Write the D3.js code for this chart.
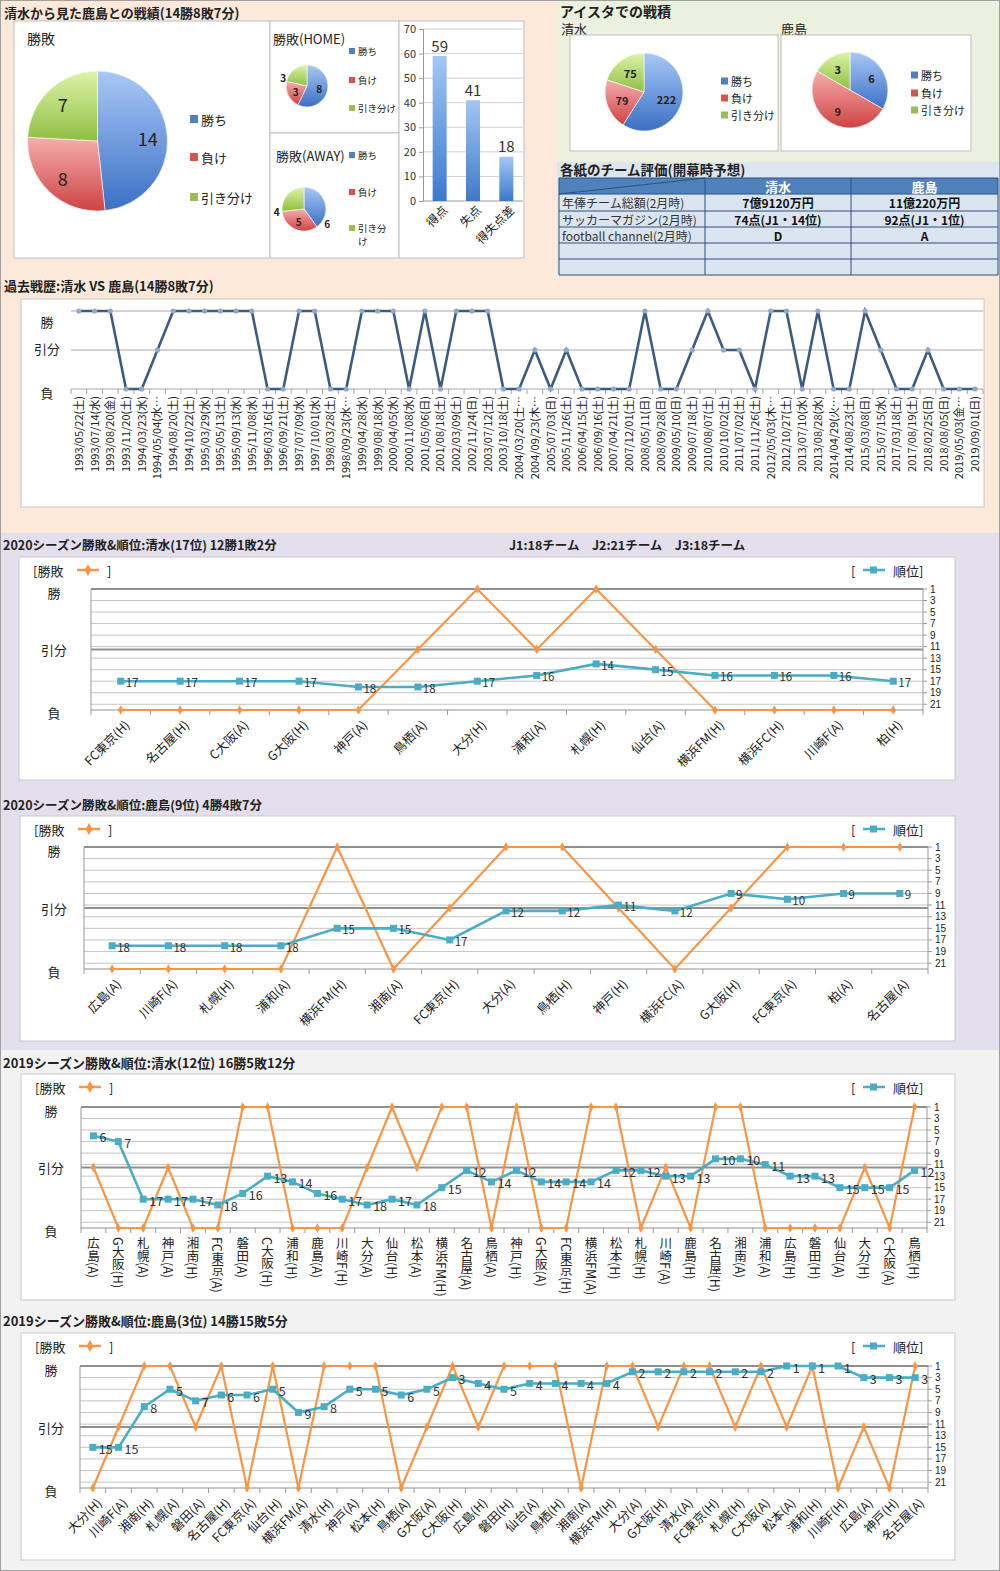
<!DOCTYPE html>
<html><head><meta charset="utf-8">
<script src="https://cdn.jsdelivr.net/npm/d3@7"></script>
<style>
body{margin:0;background:#fff}
svg text{font-family:"Noto Sans CJK JP","Noto Sans",sans-serif;fill:#222}
</style></head><body>
<svg id="c" width="1000" height="1571"></svg>
<script>
// ---- data ----
const wdlNames = ["勝ち","負け","引き分け"]
const totalWDL = [14,8,7]
const homeWDL = [8,3,3]
const awayWDL = [6,5,4]
const goalCats = ["得点","失点","得失点差"]
const goalVals = [59,41,18]
const aistaShimizu = [222,79,75]
const aistaKashima = [6,9,3]
const tableHead = ["清水","鹿島"]
const tableRows = ["年俸チーム総額(2月時)","サッカーマガジン(2月時)","football channel(2月時)","",""]
const tableShimizu = ["7億9120万円","74点(J1・14位)","D","",""]
const tableKashima = ["11億220万円","92点(J1・1位)","A","",""]

const histDates = ["1993/05/22(土)","1993/07/14(水)","1993/08/20(金)","1993/11/20(土)","1994/03/23(水)","1994/05/04(水…","1994/08/20(土)","1994/10/22(土)","1995/03/29(水)","1995/05/13(土)","1995/09/13(水)","1995/11/08(水)","1996/03/16(土)","1996/09/21(土)","1997/07/09(水)","1997/10/01(水)","1998/03/28(土)","1998/09/23(水…","1999/04/28(水)","1999/08/18(水)","2000/04/05(水)","2000/11/08(水)","2001/05/06(日)","2001/08/18(土)","2002/03/09(土)","2002/11/24(日)","2003/07/12(土)","2003/10/18(土)","2004/03/20(土…","2004/09/23(木…","2005/07/03(日)","2005/11/26(土)","2006/04/15(土)","2006/09/16(土)","2007/04/21(土)","2007/12/01(土)","2008/05/11(日)","2008/09/28(日)","2009/05/10(日)","2009/07/18(土)","2010/08/07(土)","2010/10/02(土)","2011/07/02(土)","2011/11/26(土)","2012/05/03(木…","2012/10/27(土)","2013/07/10(水)","2013/08/28(水)","2014/04/29(火…","2014/08/23(土)","2015/03/08(日)","2015/07/15(水)","2017/03/18(土)","2017/08/19(土)","2018/02/25(日)","2018/08/05(日)","2019/05/03(金…","2019/09/01(日)"]
// 1 = 勝, 0 = 引分, -1 = 負
const histResults = [1,1,1,-1,-1,0,1,1,1,1,1,1,-1,-1,1,1,-1,-1,1,1,1,-1,1,-1,1,1,1,-1,-1,0,-1,0,-1,-1,-1,-1,1,-1,-1,0,1,0,0,-1,1,1,-1,1,-1,-1,1,0,-1,-1,0,-1,-1,-1]

const s20Cats = ["FC東京(H)","名古屋(H)","C大阪(A)","G大阪(H)","神戸(A)","鳥栖(A)","大分(H)","浦和(A)","札幌(H)","仙台(A)","横浜FM(H)","横浜FC(H)","川崎F(A)","柏(H)"]
const s20Res = [-1,-1,-1,-1,-1,0,1,0,1,0,-1,-1,-1,-1]
const s20Rank = [17,17,17,17,18,18,17,16,14,15,16,16,16,17]

const k20Cats = ["広島(A)","川崎F(A)","札幌(H)","浦和(A)","横浜FM(H)","湘南(A)","FC東京(H)","大分(A)","鳥栖(H)","神戸(H)","横浜FC(A)","G大阪(H)","FC東京(A)","柏(A)","名古屋(A)"]
const k20Res = [-1,-1,-1,-1,1,-1,0,1,1,0,-1,0,1,1,1]
const k20Rank = [18,18,18,18,15,15,17,12,12,11,12,9,10,9,9]

const s19Cats = ["広島(A)","G大阪(H)","札幌(A)","神戸(A)","湘南(H)","FC東京(A)","磐田(A)","C大阪(H)","浦和(H)","鹿島(A)","川崎F(H)","大分(A)","仙台(H)","松本(A)","横浜FM(H)","名古屋(A)","鳥栖(A)","神戸(H)","G大阪(A)","FC東京(H)","横浜FM(A)","松本(H)","札幌(H)","川崎F(A)","鹿島(H)","名古屋(H)","湘南(A)","浦和(A)","広島(H)","磐田(H)","仙台(A)","大分(H)","C大阪(A)","鳥栖(H)"]
const s19Res = [0,-1,-1,0,-1,-1,1,1,-1,-1,-1,0,1,0,1,1,-1,1,-1,-1,1,1,-1,0,-1,1,1,-1,-1,-1,-1,0,-1,1]
const s19Rank = [6,7,17,17,17,18,16,13,14,16,17,18,17,18,15,12,14,12,14,14,14,12,12,13,13,10,10,11,13,13,15,15,15,12]

const k19Cats = ["大分(H)","川崎F(A)","湘南(H)","札幌(A)","磐田(A)","名古屋(H)","FC東京(A)","仙台(H)","横浜FM(A)","清水(H)","神戸(A)","松本(H)","鳥栖(A)","G大阪(A)","C大阪(H)","広島(H)","磐田(H)","仙台(A)","鳥栖(H)","湘南(A)","横浜FM(H)","大分(A)","G大阪(H)","清水(A)","FC東京(H)","札幌(H)","C大阪(A)","松本(A)","浦和(H)","川崎F(H)","広島(A)","神戸(H)","名古屋(A)"]
const k19Res = [-1,0,1,1,0,1,-1,1,-1,1,1,1,-1,0,1,0,1,1,1,-1,1,1,0,1,1,0,1,0,1,-1,0,-1,1]
const k19Rank = [15,15,8,5,7,6,6,5,9,8,5,5,6,5,3,4,5,4,4,4,4,2,2,2,2,2,2,1,1,1,3,3,3]

const rankTicks = [1,3,5,7,9,11,13,15,17,19,21]
const wdlTicks = ["勝","引分","負"]

// ---- page ----
const svg = d3.select("#c")
const defs = svg.append("defs")

function rect(x,y,w,h,fill,stroke){
  return svg.append("rect").attr("x",x).attr("y",y).attr("width",w).attr("height",h)
    .attr("fill",fill).attr("stroke",stroke||"none")
}
function txt(x,y,s,size,opt){
  opt = opt||{}
  return svg.append("text").attr("x",x).attr("y",y).text(s).attr("font-size",size)
    .attr("font-weight",opt.bold?"bold":null).attr("text-anchor",opt.anchor||"start")
    .attr("dominant-baseline","central").style("fill",opt.fill||"#222")
}

// backgrounds
rect(0,0,557,275,"#fde9d9")
rect(557,0,443,162,"#ebf1de")
rect(557,162,443,113,"#dce6f1")
rect(0,275,1000,258,"#fde9d9")
rect(0,533,1000,517,"#e4dfec")
rect(0,1050,1000,521,"#f2f2f2")
rect(0.5,0.5,999,1570,"none","#a0a0a0")

// gradients (Excel style)
const sliceColors = [["#a8c8f6","#3b70c4"],["#f6adad","#cf4343"],["#dcf3a9","#90bf42"]]
sliceColors.forEach((c,i)=>{
  const lg = defs.append("linearGradient").attr("id","pg"+i).attr("x1",0).attr("y1",0).attr("x2",0).attr("y2",1)
  lg.append("stop").attr("offset","0%").attr("stop-color",c[0])
  lg.append("stop").attr("offset","100%").attr("stop-color",c[1])
})
const bgr = defs.append("linearGradient").attr("id","bar").attr("x1",0).attr("y1",0).attr("x2",0).attr("y2",1)
bgr.append("stop").attr("offset","0%").attr("stop-color","#a3c6f5")
bgr.append("stop").attr("offset","100%").attr("stop-color","#3a7acb")
const legColors = ["#4f81bd","#d9534f","#9bbb59"]

function drawPie(cx,cy,r,vals,lab){
  const arcs = d3.pie().sort(null)(vals)
  const arc = d3.arc().innerRadius(0).outerRadius(r)
  const g = svg.append("g").attr("transform",`translate(${cx},${cy})`)
  g.selectAll("path").data(arcs).join("path").attr("d",arc)
    .attr("fill",(d,i)=>`url(#pg${i})`).attr("stroke","#fff").attr("stroke-width",0.6)
  g.selectAll("text").data(arcs).join("text")
    .attr("transform",(d,i)=>{
      const o = lab.pos ? lab.pos[i] : {}
      const a = o.a!=null ? o.a*Math.PI/180 : (d.startAngle+d.endAngle)/2
      const rr = (o.k||lab.k)*r
      return `translate(${Math.sin(a)*rr},${-Math.cos(a)*rr})`
    })
    .attr("text-anchor","middle").attr("dominant-baseline","central")
    .attr("font-size",lab.size).attr("font-weight",lab.bold?"bold":null)
    .text(d=>d.data)
}
function pieLegend(x,ys,size,sq,names){
  const g = svg.append("g")
  names.forEach((n,i)=>{
    g.append("rect").attr("x",x).attr("y",ys[i]-sq/2).attr("width",sq).attr("height",sq).attr("fill",legColors[i])
    g.append("text").attr("x",x+sq+3).attr("y",ys[i]).attr("dominant-baseline","central")
      .attr("font-size",size).text(n)
  })
}

// ---- top-left : 清水から見た鹿島との戦績 ----
txt(4,12,"清水から見た鹿島との戦績(14勝8敗7分)",13,{bold:true})
rect(14,21,256,237,"#fff","#bfbfbf")
rect(270,21,129,112,"#fff","#bfbfbf")
rect(270,133,129,125,"#fff","#bfbfbf")
rect(399,21,125,237,"#fff","#bfbfbf")

txt(27,38,"勝敗",14)
drawPie(97.5,141,70,totalWDL,{k:0.72,size:18})
pieLegend(190,[119,157,197],13,8,wdlNames)

txt(273,38,"勝敗(HOME)",13)
drawPie(307,86,21,homeWDL,{k:0.6,size:10,bold:true,pos:[{},{},{k:1.2,a:290}]})
pieLegend(349,[51,80,108],9.5,6,wdlNames)

txt(276,155,"勝敗(AWAY)",13)
drawPie(304,209,22,awayWDL,{k:0.6,size:10,bold:true,pos:[{k:1.25,a:122},{},{k:1.25,a:264}]})
pieLegend(349,[155,192,228],9.5,6,["勝ち","負け","引き分"])
txt(358,241,"け",9.5)

// bar chart 得点 / 失点
const xb = d3.scaleBand().domain(goalCats).range([423,523]).paddingInner(0.58).paddingOuter(0.29)
const yb = d3.scaleLinear().domain([0,70]).range([201,29])
const gb = svg.append("g")
gb.selectAll(".grid").data(d3.range(10,80,10)).join("line").attr("class","grid")
  .attr("x1",423).attr("x2",523).attr("y1",d=>yb(d)).attr("y2",d=>yb(d)).attr("stroke","#d0d0d0")
gb.append("g").attr("transform","translate(423,0)")
  .call(d3.axisLeft(yb).ticks(7).tickSize(4).tickPadding(3))
  .call(a=>{a.select(".domain").attr("stroke","#9a9a9a");a.selectAll(".tick line").attr("stroke","#9a9a9a");
            a.selectAll("text").attr("font-size",11).style("fill","#333")})
gb.append("line").attr("x1",423).attr("x2",523).attr("y1",201).attr("y2",201).attr("stroke","#9a9a9a")
gb.selectAll(".bar").data(goalVals).join("rect").attr("class","bar")
  .attr("x",(d,i)=>xb(goalCats[i])).attr("width",xb.bandwidth())
  .attr("y",d=>yb(d)).attr("height",d=>201-yb(d)).attr("fill","url(#bar)")
gb.selectAll(".val").data(goalVals).join("text").attr("class","val")
  .attr("x",(d,i)=>xb(goalCats[i])+xb.bandwidth()/2).attr("y",d=>yb(d)-11)
  .attr("text-anchor","middle").attr("dominant-baseline","central").attr("font-size",15).style("fill","#333").text(d=>d)
gb.selectAll(".xl").data(goalCats).join("text").attr("class","xl")
  .attr("transform",d=>`translate(${xb(d)+xb.bandwidth()/2+5},${207}) rotate(-45)`)
  .attr("text-anchor","end").attr("dominant-baseline","central").attr("font-size",12).text(d=>d)

// ---- top-right : アイスタでの戦積 ----
txt(560,11,"アイスタでの戦積",14,{bold:true})
txt(561,28,"清水",13)
txt(781,28,"鹿島",13)
rect(570,35,208,116,"#fff","#bfbfbf")
rect(781,35,190,116,"#fff","#bfbfbf")
drawPie(644,92,39,aistaShimizu,{k:0.6,size:11,bold:true})
pieLegend(721,[81,98,115],11,7,wdlNames)
drawPie(850,90,38,aistaKashima,{k:0.65,size:11,bold:true})
pieLegend(911,[75,93,110],11,7,wdlNames)

// ---- table ----
txt(560,169,"各紙のチーム評価(開幕時予想)",13.5,{bold:true})
const colX = [559,705,851,998]
const rowY = [178,194,211,227,243,259,275]
rect(559,178,439,16,"#4f81bd")
rect(559,194,439,81,"#dbe5f1")
const gt = svg.append("g")
rowY.forEach(y=>gt.append("line").attr("x1",559).attr("x2",998).attr("y1",y).attr("y2",y).attr("stroke","#2f4f7f"))
colX.forEach(x=>gt.append("line").attr("x1",x).attr("x2",x).attr("y1",178).attr("y2",275).attr("stroke","#2f4f7f"))
gt.append("line").attr("x1",559).attr("y1",194).attr("x2",705).attr("y2",178).attr("stroke","#2f4f7f")
tableHead.forEach((h,i)=>txt((colX[i+1]+colX[i+2])/2,186.5,h,13,{bold:true,anchor:"middle",fill:"#fff"}))
tableRows.forEach((r,i)=>{
  const y = (rowY[i+1]+rowY[i+2])/2
  txt(562,y,r,12,{fill:"#333"})
  txt((colX[1]+colX[2])/2,y,tableShimizu[i],12,{bold:true,anchor:"middle",fill:"#111"})
  txt((colX[2]+colX[3])/2,y,tableKashima[i],12,{bold:true,anchor:"middle",fill:"#111"})
})

// ---- 過去戦歴 ----
txt(4,285,"過去戦歴:清水 VS 鹿島(14勝8敗7分)",13,{bold:true})
rect(21,299,963,208,"#fff","#c6c6c6")
const xh = d3.scaleBand().domain(histDates).range([71,983])
const yh = d3.scaleLinear().domain([-1,1]).range([389,311])
const gh = svg.append("g")
gh.selectAll(".grid").data([-1,0,1]).join("line").attr("class","grid")
  .attr("x1",71).attr("x2",983).attr("y1",d=>yh(d)).attr("y2",d=>yh(d)).attr("stroke","#a6a6a6")
gh.selectAll(".tk").data(d3.range(histDates.length+1)).join("line").attr("class","tk")
  .attr("x1",d=>71+d*xh.step()).attr("x2",d=>71+d*xh.step()).attr("y1",389).attr("y2",394).attr("stroke","#a6a6a6")
wdlTicks.forEach((t,i)=>txt(47,[321,348,392][i],t,13,{anchor:"middle"}))
const hx = d=>xh(d)+xh.bandwidth()/2
gh.append("path").datum(histResults)
  .attr("d",d3.line().x((d,i)=>hx(histDates[i])).y(d=>yh(d)))
  .attr("fill","none").attr("stroke","#3d5b80").attr("stroke-width",2.6)
gh.selectAll(".mk").data(histResults).join("circle").attr("class","mk")
  .attr("cx",(d,i)=>hx(histDates[i])).attr("cy",d=>yh(d)).attr("r",2.6).attr("fill","#8fa9cc")
gh.selectAll(".xl").data(histDates).join("text").attr("class","xl")
  .attr("transform",d=>`translate(${hx(d)},${396}) rotate(-90)`)
  .attr("text-anchor","end").attr("dy","0.36em").attr("font-size",11).text(d=>d)

// ---- 勝敗 & 順位 combo charts ----
function combo(o){
  const g = svg.append("g")
  g.append("rect").attr("x",o.box[0]).attr("y",o.box[1]).attr("width",o.box[2]-o.box[0])
    .attr("height",o.box[3]-o.box[1]).attr("fill","#fff").attr("stroke","#c9c9c9")
  const n = o.cats.length
  const x = d3.scaleBand().domain(d3.range(n)).range([o.x0,o.x1])
  const cx = i=>x(i)+x.bandwidth()/2
  const yr = d3.scaleLinear().domain([1,22]).range([o.yT,o.yB])
  const ys = d3.scaleLinear().domain([-1,1]).range([o.yB,o.yT])

  g.selectAll(".rg").data(rankTicks).join("line").attr("class","rg")
    .attr("x1",o.x0).attr("x2",o.x1).attr("y1",d=>yr(d)).attr("y2",d=>yr(d)).attr("stroke","#c4c4c4")
  g.selectAll(".rt").data(rankTicks).join("line").attr("class","rt")
    .attr("x1",o.x1).attr("x2",o.x1+4).attr("y1",d=>yr(d)).attr("y2",d=>yr(d)).attr("stroke","#999")
  g.selectAll(".sg").data([-1,0,1]).join("line").attr("class","sg")
    .attr("x1",o.x0).attr("x2",o.x1).attr("y1",d=>ys(d)).attr("y2",d=>ys(d))
    .attr("stroke","#8f8f8f").attr("stroke-width",d=>d===-1?1.2:2)
  g.append("line").attr("x1",o.x0).attr("x2",o.x0).attr("y1",o.yT).attr("y2",o.yB).attr("stroke","#999")
  g.append("line").attr("x1",o.x1).attr("x2",o.x1).attr("y1",o.yT).attr("y2",o.yB).attr("stroke","#999")
  g.selectAll(".bt").data(d3.range(n+1)).join("line").attr("class","bt")
    .attr("x1",d=>o.x0+d*x.step()).attr("x2",d=>o.x0+d*x.step()).attr("y1",o.yB).attr("y2",o.yB+5).attr("stroke","#999")

  g.selectAll(".rl").data(rankTicks).join("text").attr("class","rl")
    .attr("x",o.x1+7).attr("y",d=>yr(d)).attr("dominant-baseline","central")
    .style("font-family","'Liberation Sans',Arial,sans-serif").attr("font-size",10).text(d=>d)
  g.selectAll(".wl").data([1,0,-1]).join("text").attr("class","wl")
    .attr("x",o.lx).attr("y",d=>ys(d)+(d===1?3:d===-1?2:0)).attr("text-anchor","middle")
    .attr("dominant-baseline","central").attr("font-size",13).text((d,i)=>wdlTicks[i])

  // legends
  const ly = o.box[1]+13
  g.append("text").attr("x",o.box[0]+14).attr("y",ly).attr("dominant-baseline","central").attr("font-size",13).text("[勝敗")
  g.append("line").attr("x1",o.box[0]+58).attr("x2",o.box[0]+80).attr("y1",ly).attr("y2",ly).attr("stroke","#f79646").attr("stroke-width",2.5)
  g.append("path").attr("d",d3.symbol(d3.symbolDiamond).size(40)()).attr("transform",`translate(${o.box[0]+69},${ly})`).attr("fill","#f79646")
  g.append("text").attr("x",o.box[0]+88).attr("y",ly).attr("dominant-baseline","central").attr("font-size",13).text("]")
  g.append("text").attr("x",o.box[2]-104).attr("y",ly).attr("dominant-baseline","central").attr("font-size",13).text("[")
  g.append("line").attr("x1",o.box[2]-92).attr("x2",o.box[2]-70).attr("y1",ly).attr("y2",ly).attr("stroke","#4bacc6").attr("stroke-width",2.5)
  g.append("rect").attr("x",o.box[2]-85).attr("y",ly-3.5).attr("width",7).attr("height",7).attr("fill","#4bacc6")
  g.append("text").attr("x",o.box[2]-62).attr("y",ly).attr("dominant-baseline","central").attr("font-size",13).text("順位]")

  // x labels
  if(o.vertical){
    g.selectAll(".xl").data(o.cats).join("text").attr("class","xl")
      .attr("x",(d,i)=>cx(i)).attr("y",o.yB+9).style("writing-mode","vertical-rl")
      .attr("font-size",12.5).text(d=>d)
  } else {
    g.selectAll(".xl").data(o.cats).join("text").attr("class","xl")
      .attr("transform",(d,i)=>`translate(${cx(i)+6},${o.yB+12}) rotate(-45)`)
      .attr("text-anchor","end").attr("dominant-baseline","central").attr("font-size",12.5).text(d=>d)
  }

  // 勝敗 series
  g.append("path").datum(o.res).attr("d",d3.line().x((d,i)=>cx(i)).y(d=>ys(d)))
    .attr("fill","none").attr("stroke","#f79646").attr("stroke-width",2.2)
  g.selectAll(".om").data(o.res).join("path").attr("class","om")
    .attr("d",d3.symbol(d3.symbolDiamond).size(26)()).attr("transform",(d,i)=>`translate(${cx(i)},${ys(d)})`).attr("fill","#f79646")
  // 順位 series
  g.append("path").datum(o.rank).attr("d",d3.line().x((d,i)=>cx(i)).y(d=>yr(d)))
    .attr("fill","none").attr("stroke","#4bacc6").attr("stroke-width",2.6)
  g.selectAll(".tm").data(o.rank).join("rect").attr("class","tm")
    .attr("x",(d,i)=>cx(i)-3.5).attr("y",d=>yr(d)-3.5).attr("width",7).attr("height",7).attr("fill","#4bacc6")
  g.selectAll(".tl").data(o.rank).join("text").attr("class","tl")
    .attr("x",(d,i)=>cx(i)+o.off).attr("y",d=>yr(d)+1).attr("dominant-baseline","central")
    .attr("font-size",o.fs).style("fill","#333").text(d=>d)
}

txt(3,544,"2020シーズン勝敗&順位:清水(17位) 12勝1敗2分",12.5,{bold:true})
txt(509,544,"J1:18チーム　J2:21チーム　J3:18チーム",12.5,{bold:true})
combo({box:[19,557,955,780],x0:91,x1:923,yT:589,yB:710,lx:54,cats:s20Cats,res:s20Res,rank:s20Rank,off:5,fs:11.5})

txt(3,804,"2020シーズン勝敗&順位:鹿島(9位) 4勝4敗7分",12.5,{bold:true})
combo({box:[20,816,955,1041],x0:84,x1:928,yT:847,yB:969,lx:54,cats:k20Cats,res:k20Res,rank:k20Rank,off:5,fs:11.5})

txt(3,1062,"2019シーズン勝敗&順位:清水(12位) 16勝5敗12分",13,{bold:true})
combo({box:[21,1074,955,1300],x0:81,x1:927,yT:1107,yB:1228,lx:51,cats:s19Cats,res:s19Res,rank:s19Rank,off:6,fs:12.5,vertical:true})

txt(3,1320,"2019シーズン勝敗&順位:鹿島(3位) 14勝15敗5分",13,{bold:true})
combo({box:[21,1333,955,1560],x0:80,x1:928,yT:1366,yB:1488,lx:51,cats:k19Cats,res:k19Res,rank:k19Rank,off:6,fs:12.5})
</script>
</body></html>
